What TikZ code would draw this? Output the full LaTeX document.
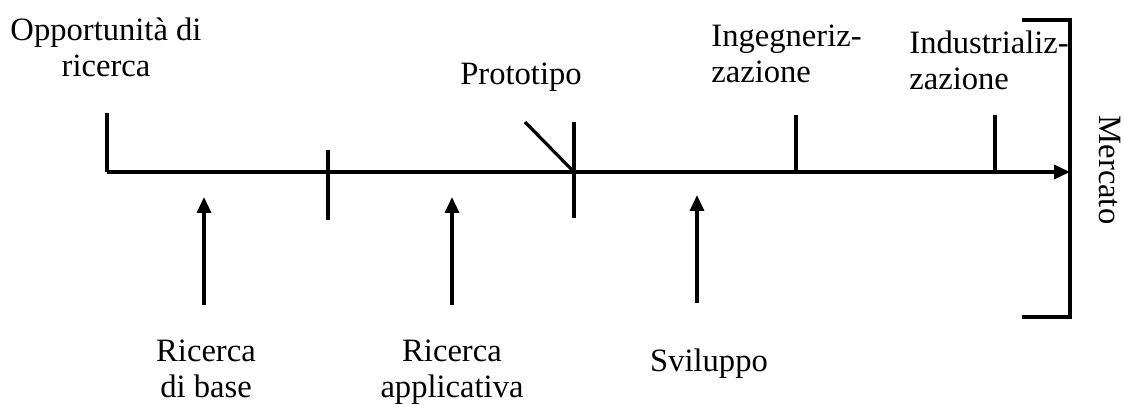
\documentclass[tikz,border=0pt]{standalone}
\usepackage{fontspec}
\setmainfont{Liberation Serif}
\usetikzlibrary{arrows.meta}

\tikzset{
    line/.style={line width=1.6pt},
    flow/.style={line width=1.6pt,-{Triangle[length=8pt,width=7pt]}},
    lbl/.style={inner sep=0pt,font=\fontsize{16.3pt}{18pt}\selectfont}
}

\begin{document}
\begin{tikzpicture}[x=5pt,y=-5pt]
            \useasboundingbox (0,0) rectangle (112.4,40.5);

            % points on the axis
            \coordinate (o) at (10.7,17.2);
            \coordinate (o0) at (10.7,11.3);
            \coordinate (m) at (107,17.2);
            \coordinate (t1) at (32.8,15.0);
            \coordinate (t1b) at (32.8,22.0);
            \coordinate (p) at (57.4,17.2);
            \coordinate (pt) at (57.4,12.2);
            \coordinate (pb) at (57.4,21.8);
            \coordinate (pd) at (52.5,12.2);
            \coordinate (ig) at (79.6,17.2);
            \coordinate (igt) at (79.6,11.5);
            \coordinate (id) at (99.5,17.2);
            \coordinate (idt) at (99.5,11.5);
            \coordinate (mt) at (107,2.0);
            \coordinate (mtl) at (102.2,2.0);
            \coordinate (mb) at (107,31.7);
            \coordinate (mbl) at (102.2,31.7);

            % arrow ends
            \coordinate (a1) at (20.4,30.5);
            \coordinate (a1t) at (20.4,19.7);
            \coordinate (a2) at (45.2,30.5);
            \coordinate (a2t) at (45.2,19.7);
            \coordinate (a3) at (69.7,30.3);
            \coordinate (a3t) at (69.7,19.5);

            % labels (base = last line)
            \node[lbl,align=center,anchor=base] (opp) at (10.6,7.7) {Opportunità di\\ricerca};
            \node[lbl,anchor=base] (proto) at (52.1,8.5) {Prototipo};
            \node[lbl,align=left,anchor=base west] (ing) at (71.1,8.3) {Ingegneriz-\\zazione};
            \node[lbl,align=left,anchor=base west] (ind) at (90.9,9.0) {Industrializ-\\zazione};
            \node[lbl,align=center,anchor=base] (base) at (20.6,39.8) {Ricerca\\di base};
            \node[lbl,align=center,anchor=base] (appl) at (45.2,39.8) {Ricerca\\applicativa};
            \node[lbl,anchor=base] (svil) at (70.9,37.2) {Sviluppo};
            \node[lbl,rotate=-90] (merc) at (111.0,17.0) {Mercato};

            % axis and ticks
            \draw[line] (o0) -- (o);
            \draw[flow] (o) -- (m);
            \draw[line] (t1) -- (t1b);
            \draw[line] (pt) -- (pb);
            \draw[line] (pd) -- (p);
            \draw[line] (igt) -- (ig);
            \draw[line] (idt) -- (id);
            \draw[line] (mtl) -- (mt) -- (mb) -- (mbl);

            % phases
            \draw[flow] (a1) -- (a1t);
            \draw[flow] (a2) -- (a2t);
            \draw[flow] (a3) -- (a3t);
        \end{tikzpicture}
\end{document}
